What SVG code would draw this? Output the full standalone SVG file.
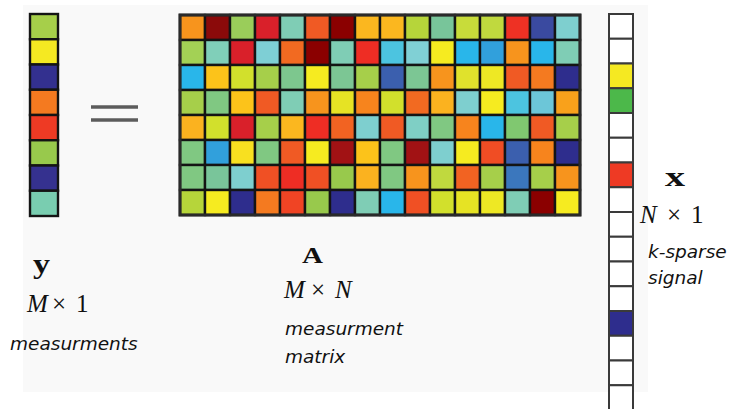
<svg xmlns="http://www.w3.org/2000/svg" width="744" height="409" viewBox="0 0 744 409">
<style>
.c{stroke:#141414;stroke-width:2.4}
.xv{stroke:#3a3a3a;stroke-width:2}
.bold{font-family:"Liberation Serif",serif;font-weight:bold;fill:#111}
.math{font-family:"Liberation Serif",serif;font-size:25px;fill:#111}
.it{font-style:italic}
.lab{font-family:"DejaVu Sans",sans-serif;font-style:italic;font-size:18.5px;fill:#111}
</style>
<rect x="0" y="0" width="744" height="409" fill="#ffffff"/>
<rect x="23" y="5" width="625" height="387" fill="#f9f9f9"/>

<g id="vector-y" transform="translate(30,14)">
<rect class="c" x="0" y="0" width="28" height="25.25" fill="#a6cf4a"/>
<rect class="c" x="0" y="25.25" width="28" height="25.25" fill="#f5e922"/>
<rect class="c" x="0" y="50.5" width="28" height="25.25" fill="#33308f"/>
<rect class="c" x="0" y="75.75" width="28" height="25.25" fill="#f47a20"/>
<rect class="c" x="0" y="101" width="28" height="25.25" fill="#ee3a24"/>
<rect class="c" x="0" y="126.25" width="28" height="25.25" fill="#98c94c"/>
<rect class="c" x="0" y="151.5" width="28" height="25.25" fill="#35318f"/>
<rect class="c" x="0" y="176.75" width="28" height="25.25" fill="#79cdb0"/>
</g>

<g id="equals" stroke="#5c5c5c" stroke-width="3.6">
<line x1="91" y1="107" x2="138" y2="107"/>
<line x1="91" y1="120" x2="138" y2="120"/>
</g>

<g id="matrix-A" transform="translate(180,15)">
<g transform="translate(0,0)">
<rect class="c" x="0" width="25" height="25" fill="#f7941d"/><rect class="c" x="25" width="25" height="25" fill="#8b0a0a"/><rect class="c" x="50" width="25" height="25" fill="#9acd5a"/><rect class="c" x="75" width="25" height="25" fill="#d9202a"/><rect class="c" x="100" width="25" height="25" fill="#7fcdb5"/><rect class="c" x="125" width="25" height="25" fill="#f05a24"/><rect class="c" x="150" width="25" height="25" fill="#8b0000"/><rect class="c" x="175" width="25" height="25" fill="#fbb71f"/><rect class="c" x="200" width="25" height="25" fill="#fbb71f"/><rect class="c" x="225" width="25" height="25" fill="#b6d53a"/><rect class="c" x="250" width="25" height="25" fill="#78c59a"/><rect class="c" x="275" width="25" height="25" fill="#c8dc3a"/><rect class="c" x="300" width="25" height="25" fill="#c0d93e"/><rect class="c" x="325" width="25" height="25" fill="#ee3124"/><rect class="c" x="350" width="25" height="25" fill="#3a4aa0"/><rect class="c" x="375" width="25" height="25" fill="#7ecfcf"/>
</g>
<g transform="translate(0,25)">
<rect class="c" x="0" width="25" height="25" fill="#a3d155"/><rect class="c" x="25" width="25" height="25" fill="#80cfb9"/><rect class="c" x="50" width="25" height="25" fill="#d9202a"/><rect class="c" x="75" width="25" height="25" fill="#7ecfd5"/><rect class="c" x="100" width="25" height="25" fill="#f26a21"/><rect class="c" x="125" width="25" height="25" fill="#8b0000"/><rect class="c" x="150" width="25" height="25" fill="#7fcdb5"/><rect class="c" x="175" width="25" height="25" fill="#ee2d24"/><rect class="c" x="200" width="25" height="25" fill="#4cc4e0"/><rect class="c" x="225" width="25" height="25" fill="#80d0d5"/><rect class="c" x="250" width="25" height="25" fill="#f6eb20"/><rect class="c" x="275" width="25" height="25" fill="#29b6ea"/><rect class="c" x="300" width="25" height="25" fill="#31a0dc"/><rect class="c" x="325" width="25" height="25" fill="#f7941d"/><rect class="c" x="350" width="25" height="25" fill="#29b6ea"/><rect class="c" x="375" width="25" height="25" fill="#7fcdb5"/>
</g>
<g transform="translate(0,50)">
<rect class="c" x="0" width="25" height="25" fill="#29b6ea"/><rect class="c" x="25" width="25" height="25" fill="#fcc31a"/><rect class="c" x="50" width="25" height="25" fill="#d2e02c"/><rect class="c" x="75" width="25" height="25" fill="#a6cf4a"/><rect class="c" x="100" width="25" height="25" fill="#7dc78e"/><rect class="c" x="125" width="25" height="25" fill="#f6eb20"/><rect class="c" x="150" width="25" height="25" fill="#7cc694"/><rect class="c" x="175" width="25" height="25" fill="#a6cf4a"/><rect class="c" x="200" width="25" height="25" fill="#3b5fae"/><rect class="c" x="225" width="25" height="25" fill="#7cc694"/><rect class="c" x="250" width="25" height="25" fill="#f7941d"/><rect class="c" x="275" width="25" height="25" fill="#e0e22c"/><rect class="c" x="300" width="25" height="25" fill="#eee824"/><rect class="c" x="325" width="25" height="25" fill="#f05a24"/><rect class="c" x="350" width="25" height="25" fill="#f47a20"/><rect class="c" x="375" width="25" height="25" fill="#2e2d8d"/>
</g>
<g transform="translate(0,75)">
<rect class="c" x="0" width="25" height="25" fill="#a6cf4a"/><rect class="c" x="25" width="25" height="25" fill="#80c882"/><rect class="c" x="50" width="25" height="25" fill="#fcc31a"/><rect class="c" x="75" width="25" height="25" fill="#f05a24"/><rect class="c" x="100" width="25" height="25" fill="#7fcdb5"/><rect class="c" x="125" width="25" height="25" fill="#f7941d"/><rect class="c" x="150" width="25" height="25" fill="#e6e324"/><rect class="c" x="175" width="25" height="25" fill="#f7841d"/><rect class="c" x="200" width="25" height="25" fill="#d2e02c"/><rect class="c" x="225" width="25" height="25" fill="#f26a21"/><rect class="c" x="250" width="25" height="25" fill="#fbb21f"/><rect class="c" x="275" width="25" height="25" fill="#7ecfcf"/><rect class="c" x="300" width="25" height="25" fill="#f6eb20"/><rect class="c" x="325" width="25" height="25" fill="#4cc4e0"/><rect class="c" x="350" width="25" height="25" fill="#6cc6d8"/><rect class="c" x="375" width="25" height="25" fill="#f9a11b"/>
</g>
<g transform="translate(0,100)">
<rect class="c" x="0" width="25" height="25" fill="#fbb21f"/><rect class="c" x="25" width="25" height="25" fill="#d2e02c"/><rect class="c" x="50" width="25" height="25" fill="#d9202a"/><rect class="c" x="75" width="25" height="25" fill="#a6cf4a"/><rect class="c" x="100" width="25" height="25" fill="#fbb71f"/><rect class="c" x="125" width="25" height="25" fill="#ee2d24"/><rect class="c" x="150" width="25" height="25" fill="#f26322"/><rect class="c" x="175" width="25" height="25" fill="#7ecfcf"/><rect class="c" x="200" width="25" height="25" fill="#f05a24"/><rect class="c" x="225" width="25" height="25" fill="#7fcfc5"/><rect class="c" x="250" width="25" height="25" fill="#80c882"/><rect class="c" x="275" width="25" height="25" fill="#f7841d"/><rect class="c" x="300" width="25" height="25" fill="#29b6ea"/><rect class="c" x="325" width="25" height="25" fill="#80c870"/><rect class="c" x="350" width="25" height="25" fill="#f05a24"/><rect class="c" x="375" width="25" height="25" fill="#a6cf4a"/>
</g>
<g transform="translate(0,125)">
<rect class="c" x="0" width="25" height="25" fill="#80c882"/><rect class="c" x="25" width="25" height="25" fill="#31a0dc"/><rect class="c" x="50" width="25" height="25" fill="#f8e020"/><rect class="c" x="75" width="25" height="25" fill="#80c882"/><rect class="c" x="100" width="25" height="25" fill="#f05a24"/><rect class="c" x="125" width="25" height="25" fill="#f6eb20"/><rect class="c" x="150" width="25" height="25" fill="#a11214"/><rect class="c" x="175" width="25" height="25" fill="#fcc31a"/><rect class="c" x="200" width="25" height="25" fill="#80c882"/><rect class="c" x="225" width="25" height="25" fill="#a11214"/><rect class="c" x="250" width="25" height="25" fill="#7ecfcf"/><rect class="c" x="275" width="25" height="25" fill="#f6eb20"/><rect class="c" x="300" width="25" height="25" fill="#f04d24"/><rect class="c" x="325" width="25" height="25" fill="#3b5fae"/><rect class="c" x="350" width="25" height="25" fill="#f7841d"/><rect class="c" x="375" width="25" height="25" fill="#2e2d8d"/>
</g>
<g transform="translate(0,150)">
<rect class="c" x="0" width="25" height="25" fill="#80c882"/><rect class="c" x="25" width="25" height="25" fill="#79c59a"/><rect class="c" x="50" width="25" height="25" fill="#7ecfcf"/><rect class="c" x="75" width="25" height="25" fill="#f05024"/><rect class="c" x="100" width="25" height="25" fill="#ee2d24"/><rect class="c" x="125" width="25" height="25" fill="#f05024"/><rect class="c" x="150" width="25" height="25" fill="#98c94c"/><rect class="c" x="175" width="25" height="25" fill="#fbb21f"/><rect class="c" x="200" width="25" height="25" fill="#80c882"/><rect class="c" x="225" width="25" height="25" fill="#f7941d"/><rect class="c" x="250" width="25" height="25" fill="#c0d93e"/><rect class="c" x="275" width="25" height="25" fill="#f26322"/><rect class="c" x="300" width="25" height="25" fill="#a6cf4a"/><rect class="c" x="325" width="25" height="25" fill="#3b77bd"/><rect class="c" x="350" width="25" height="25" fill="#a6cf4a"/><rect class="c" x="375" width="25" height="25" fill="#f7941d"/>
</g>
<g transform="translate(0,175)">
<rect class="c" x="0" width="25" height="25" fill="#b6d53a"/><rect class="c" x="25" width="25" height="25" fill="#f6eb20"/><rect class="c" x="50" width="25" height="25" fill="#2e2d8d"/><rect class="c" x="75" width="25" height="25" fill="#f47a20"/><rect class="c" x="100" width="25" height="25" fill="#f04424"/><rect class="c" x="125" width="25" height="25" fill="#98c94c"/><rect class="c" x="150" width="25" height="25" fill="#2e2d8d"/><rect class="c" x="175" width="25" height="25" fill="#7fcdb5"/><rect class="c" x="200" width="25" height="25" fill="#29b6ea"/><rect class="c" x="225" width="25" height="25" fill="#f05024"/><rect class="c" x="250" width="25" height="25" fill="#d2e02c"/><rect class="c" x="275" width="25" height="25" fill="#e6e324"/><rect class="c" x="300" width="25" height="25" fill="#eee824"/><rect class="c" x="325" width="25" height="25" fill="#7fcdb5"/><rect class="c" x="350" width="25" height="25" fill="#8b0000"/><rect class="c" x="375" width="25" height="25" fill="#f6eb20"/>
</g>
<rect x="0" y="0" width="400" height="200" fill="none" stroke="#2a2a2a" stroke-width="3"/>
</g>

<g id="vector-x" transform="translate(609,14)">
<rect class="xv" x="0" y="0" width="24" height="24.75" fill="#ffffff"/>
<rect class="xv" x="0" y="24.75" width="24" height="24.75" fill="#ffffff"/>
<rect class="xv" x="0" y="49.5" width="24" height="24.75" fill="#f5e922"/>
<rect class="xv" x="0" y="74.25" width="24" height="24.75" fill="#4cb84a"/>
<rect class="xv" x="0" y="99" width="24" height="24.75" fill="#ffffff"/>
<rect class="xv" x="0" y="123.75" width="24" height="24.75" fill="#ffffff"/>
<rect class="xv" x="0" y="148.5" width="24" height="24.75" fill="#ee3a24"/>
<rect class="xv" x="0" y="173.25" width="24" height="24.75" fill="#ffffff"/>
<rect class="xv" x="0" y="198" width="24" height="24.75" fill="#ffffff"/>
<rect class="xv" x="0" y="222.75" width="24" height="24.75" fill="#ffffff"/>
<rect class="xv" x="0" y="247.5" width="24" height="24.75" fill="#ffffff"/>
<rect class="xv" x="0" y="272.25" width="24" height="24.75" fill="#ffffff"/>
<rect class="xv" x="0" y="297" width="24" height="24.75" fill="#2e2d8d"/>
<rect class="xv" x="0" y="321.75" width="24" height="24.75" fill="#ffffff"/>
<rect class="xv" x="0" y="346.5" width="24" height="24.75" fill="#ffffff"/>
<rect class="xv" x="0" y="371.25" width="24" height="24.75" fill="#ffffff"/>
</g>

<g id="label-y">
<text class="bold" x="33" y="273" font-size="27" textLength="17" lengthAdjust="spacingAndGlyphs">y</text>
<text class="math" y="312"><tspan class="it" x="27">M</tspan><tspan x="52">×</tspan><tspan x="76">1</tspan></text>
<text class="lab" x="10" y="350">measurments</text>
</g>
<g id="label-A">
<text class="bold" x="302" y="263" font-size="24" textLength="21" lengthAdjust="spacingAndGlyphs">A</text>
<text class="math" y="298"><tspan class="it" x="284">M</tspan><tspan x="311">×</tspan><tspan class="it" x="335">N</tspan></text>
<text class="lab" x="285" y="335">measurment</text>
<text class="lab" x="285" y="363">matrix</text>
</g>
<g id="label-x">
<text class="bold" x="665" y="186" font-size="27" textLength="20" lengthAdjust="spacingAndGlyphs">x</text>
<text class="math" y="223"><tspan class="it" x="640">N</tspan><tspan x="667">×</tspan><tspan x="691">1</tspan></text>
<text class="lab" x="648" y="258">k-sparse</text>
<text class="lab" x="648" y="284">signal</text>
</g>
</svg>
